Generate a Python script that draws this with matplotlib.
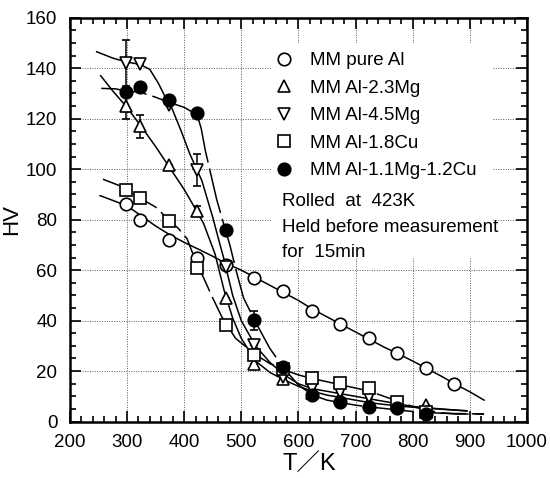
import numpy as np
import matplotlib.pyplot as plt
from matplotlib.patches import Rectangle
from matplotlib.ticker import MultipleLocator
from matplotlib.lines import Line2D

plt.rcParams["font.family"] = ["Liberation Sans", "DejaVu Sans"]

# measured points
T_pure = [298, 323, 373, 423, 473, 523, 573, 623, 673, 723, 773, 823, 873]
hv_pure = [86, 80, 72, 65, 62, 57, 51.7, 44, 38.6, 33, 27.3, 21.3, 14.8]

T_23mg = [298, 323, 373, 423, 473, 523, 573, 623, 673, 723, 773, 823]
hv_23mg = [125, 117, 101.5, 83.5, 49, 23, 17, 11.5, 9.6, 7.9, 6.5, 6.6]
err_23mg = [5, 4.6, 0, 2, 0, 0, 0, 0, 0, 0, 0, 0]

T_45mg = [298, 323, 373, 423, 473, 523, 573, 623, 673, 723, 773]
hv_45mg = [142, 141.6, 125.5, 99.6, 61.3, 30.3, 17.8, 13.2, 11.8, 9.6, 6.5]
err_45mg = [9, 0, 0, 6.3, 0, 0, 0, 0, 0, 0, 0]

T_18cu = [298, 323, 373, 423, 473, 523, 573, 623, 673, 723, 773, 823]
hv_18cu = [91.7, 88.7, 79.3, 60.7, 38.3, 26.2, 20.7, 17.1, 15.2, 13.2, 7.9, 3.9]

T_mgcu = [298, 323, 373, 423, 473, 523, 573, 623, 673, 723, 773, 823]
hv_mgcu = [130.4, 132.4, 127.4, 122.3, 75.9, 40.2, 21.5, 10.5, 7.9, 5.9, 5.3, 3.2]
err_mgcu = [1.5, 1.5, 1.5, 0, 0, 3.8, 0, 0, 0, 0, 0, 0]

# fitted curves
fitT_pure = [253, 300, 325, 350, 375, 400, 425, 450, 475, 500, 525, 550, 575,
             600, 625, 650, 675, 700, 725, 750, 775, 800, 825, 850, 875, 900, 925]
fithv_pure = [89.5, 85.5, 81.5, 77.5, 74, 71, 68.3, 65.5, 62.5, 60, 57, 54,
              51, 48, 44.5, 41.5, 38.5, 35.5, 32.5, 29.5, 26.8, 24, 21, 18,
              14.8, 11.8, 8.5]

fitT_23mg = [254, 275, 298, 323, 350, 375, 400, 423, 434, 454, 470, 485, 500,
             525, 550, 575, 600, 625, 650, 675, 700, 725, 750, 775, 800, 825,
             850, 895]
fithv_23mg = [137, 131, 125, 117.5, 109, 100.5, 92, 83, 78.5, 66.5, 52, 41,
              33, 24, 19.5, 16.5, 14, 12, 10.5, 9.5, 8.5, 7.5, 6.8, 6.2, 5.7,
              5.3, 4.9, 4.3]

fitT_45mg = [247, 275, 298, 323, 340, 355, 366, 378, 395, 410, 423, 431, 450,
             460, 469, 485, 500, 525, 550, 575, 600, 625, 650, 675, 700, 725,
             750, 775, 800, 850, 895]
fithv_45mg = [146.5, 144, 142.5, 141.5, 139.5, 134, 129, 124.5, 115, 106,
              99.5, 95.5, 81, 72.5, 65, 50, 40, 30, 23.5, 18.5, 15, 13, 12,
              11, 10, 9, 8, 7, 6, 5, 4.2]

fitT_18cu = [258, 298, 323, 350, 375, 390, 405, 423, 434, 450, 466, 490, 525,
             550, 575, 600, 625, 650, 675, 700, 725, 750, 775, 800, 825, 850,
             875, 925]
fithv_18cu = [96, 92.5, 88.5, 85, 79.5, 76.5, 72.5, 62, 57, 49, 41.5, 33,
              26.5, 23, 20.5, 18.5, 17, 15.8, 14.5, 13.3, 12, 10, 8, 6, 4.5,
              3.5, 3, 3]

fitT_mgcu = [255, 280, 298, 323, 350, 373, 400, 423, 430, 437, 457, 469, 480,
             492, 504, 526, 550, 575, 600, 625, 650, 675, 700, 725, 750, 775,
             800, 850, 925]
fithv_mgcu = [132, 131.8, 131, 130.5, 128.5, 126.5, 124.5, 121.5, 116, 107.5,
              88, 78.5, 70, 59, 49, 39, 29, 21, 14.5, 10.5, 8.5, 7.5, 6.5,
              5.8, 5.2, 4.6, 4, 3.3, 3]

labels = ["MM pure Al", "MM Al-2.3Mg", "MM Al-4.5Mg", "MM Al-1.8Cu",
          "MM Al-1.1Mg-1.2Cu"]

fig = plt.figure(figsize=(5.5, 4.78), dpi=100)
ax = fig.add_axes([0.127, 0.118, 0.831, 0.845])

dash = (0, (18, 4))
ax.plot(fitT_pure, fithv_pure, color="black", lw=1.1, zorder=2)
ax.plot(fitT_23mg, fithv_23mg, color="black", lw=1.1, zorder=2)
ax.plot(fitT_45mg, fithv_45mg, color="black", lw=1.1, zorder=2)
ax.plot(fitT_18cu, fithv_18cu, color="black", lw=1.1, ls=dash, zorder=2)
ax.plot(fitT_mgcu, fithv_mgcu, color="black", lw=1.1, ls=(0, (30, 4)), zorder=2)

mk = dict(ls="none", ms=9, mew=1.2, mec="black", ecolor="black",
          elinewidth=1.1, capsize=3, zorder=3)
ax.errorbar(T_pure, hv_pure, marker="o", mfc="white", **mk)
ax.errorbar(T_23mg, hv_23mg, yerr=err_23mg, marker="^", mfc="white", **mk)
ax.errorbar(T_45mg, hv_45mg, yerr=err_45mg, marker="v", mfc="white", **mk)
ax.errorbar(T_18cu, hv_18cu, marker="s", mfc="white", **mk)
ax.errorbar(T_mgcu, hv_mgcu, yerr=err_mgcu, marker="o", mfc="black", **mk)

ax.set_xlim(200, 1000)
ax.set_ylim(0, 160)
ax.xaxis.set_major_locator(MultipleLocator(100))
ax.xaxis.set_minor_locator(MultipleLocator(20))
ax.yaxis.set_major_locator(MultipleLocator(20))
ax.yaxis.set_minor_locator(MultipleLocator(5))
ax.tick_params(which="both", direction="in", top=True, right=True,
               labelsize=13.5, width=1.2)
ax.tick_params(which="major", length=8)
ax.tick_params(which="minor", length=4)
ax.tick_params(axis="x", which="major", pad=9)
ax.tick_params(axis="y", which="major", pad=9)
for s in ax.spines.values():
    s.set_linewidth(1.8)

ax.set_axisbelow(True)
ax.grid(True, which="major", ls=(0, (1, 1.5)), color="0.35", lw=0.7)

# white area behind the legend text
ax.add_patch(Rectangle((0.442, 0.405), 0.484, 0.532, transform=ax.transAxes,
                       facecolor="white", edgecolor="none", zorder=1))

handles = [
    Line2D([], [], ls="none", marker="o", mfc="white", mec="black", ms=9, mew=1.2),
    Line2D([], [], ls="none", marker="^", mfc="white", mec="black", ms=9, mew=1.2),
    Line2D([], [], ls="none", marker="v", mfc="white", mec="black", ms=9, mew=1.2),
    Line2D([], [], ls="none", marker="s", mfc="white", mec="black", ms=9, mew=1.2),
    Line2D([], [], ls="none", marker="o", mfc="black", mec="black", ms=9, mew=1.2),
]
ax.legend(handles, labels, loc="upper left", bbox_to_anchor=(0.431, 0.933),
          frameon=False, fontsize=13.5, labelspacing=0.55, handlelength=1.0,
          handletextpad=0.9, borderaxespad=0)

ax.text(0.464, 0.545, "Rolled  at  423K", transform=ax.transAxes,
        fontsize=13.5, va="center")
ax.text(0.464, 0.480, "Held before measurement", transform=ax.transAxes,
        fontsize=13.5, va="center")
ax.text(0.464, 0.418, "for  15min", transform=ax.transAxes,
        fontsize=13.5, va="center")

ax.set_xlabel("T／K", fontsize=17, family=["Liberation Sans", "Noto Sans CJK JP"])
ax.xaxis.set_label_coords(0.525, -0.08)
ax.set_ylabel("HV", fontsize=16)
ax.yaxis.set_label_coords(-0.105, 0.5)

fig.savefig("out.png", dpi=100)
